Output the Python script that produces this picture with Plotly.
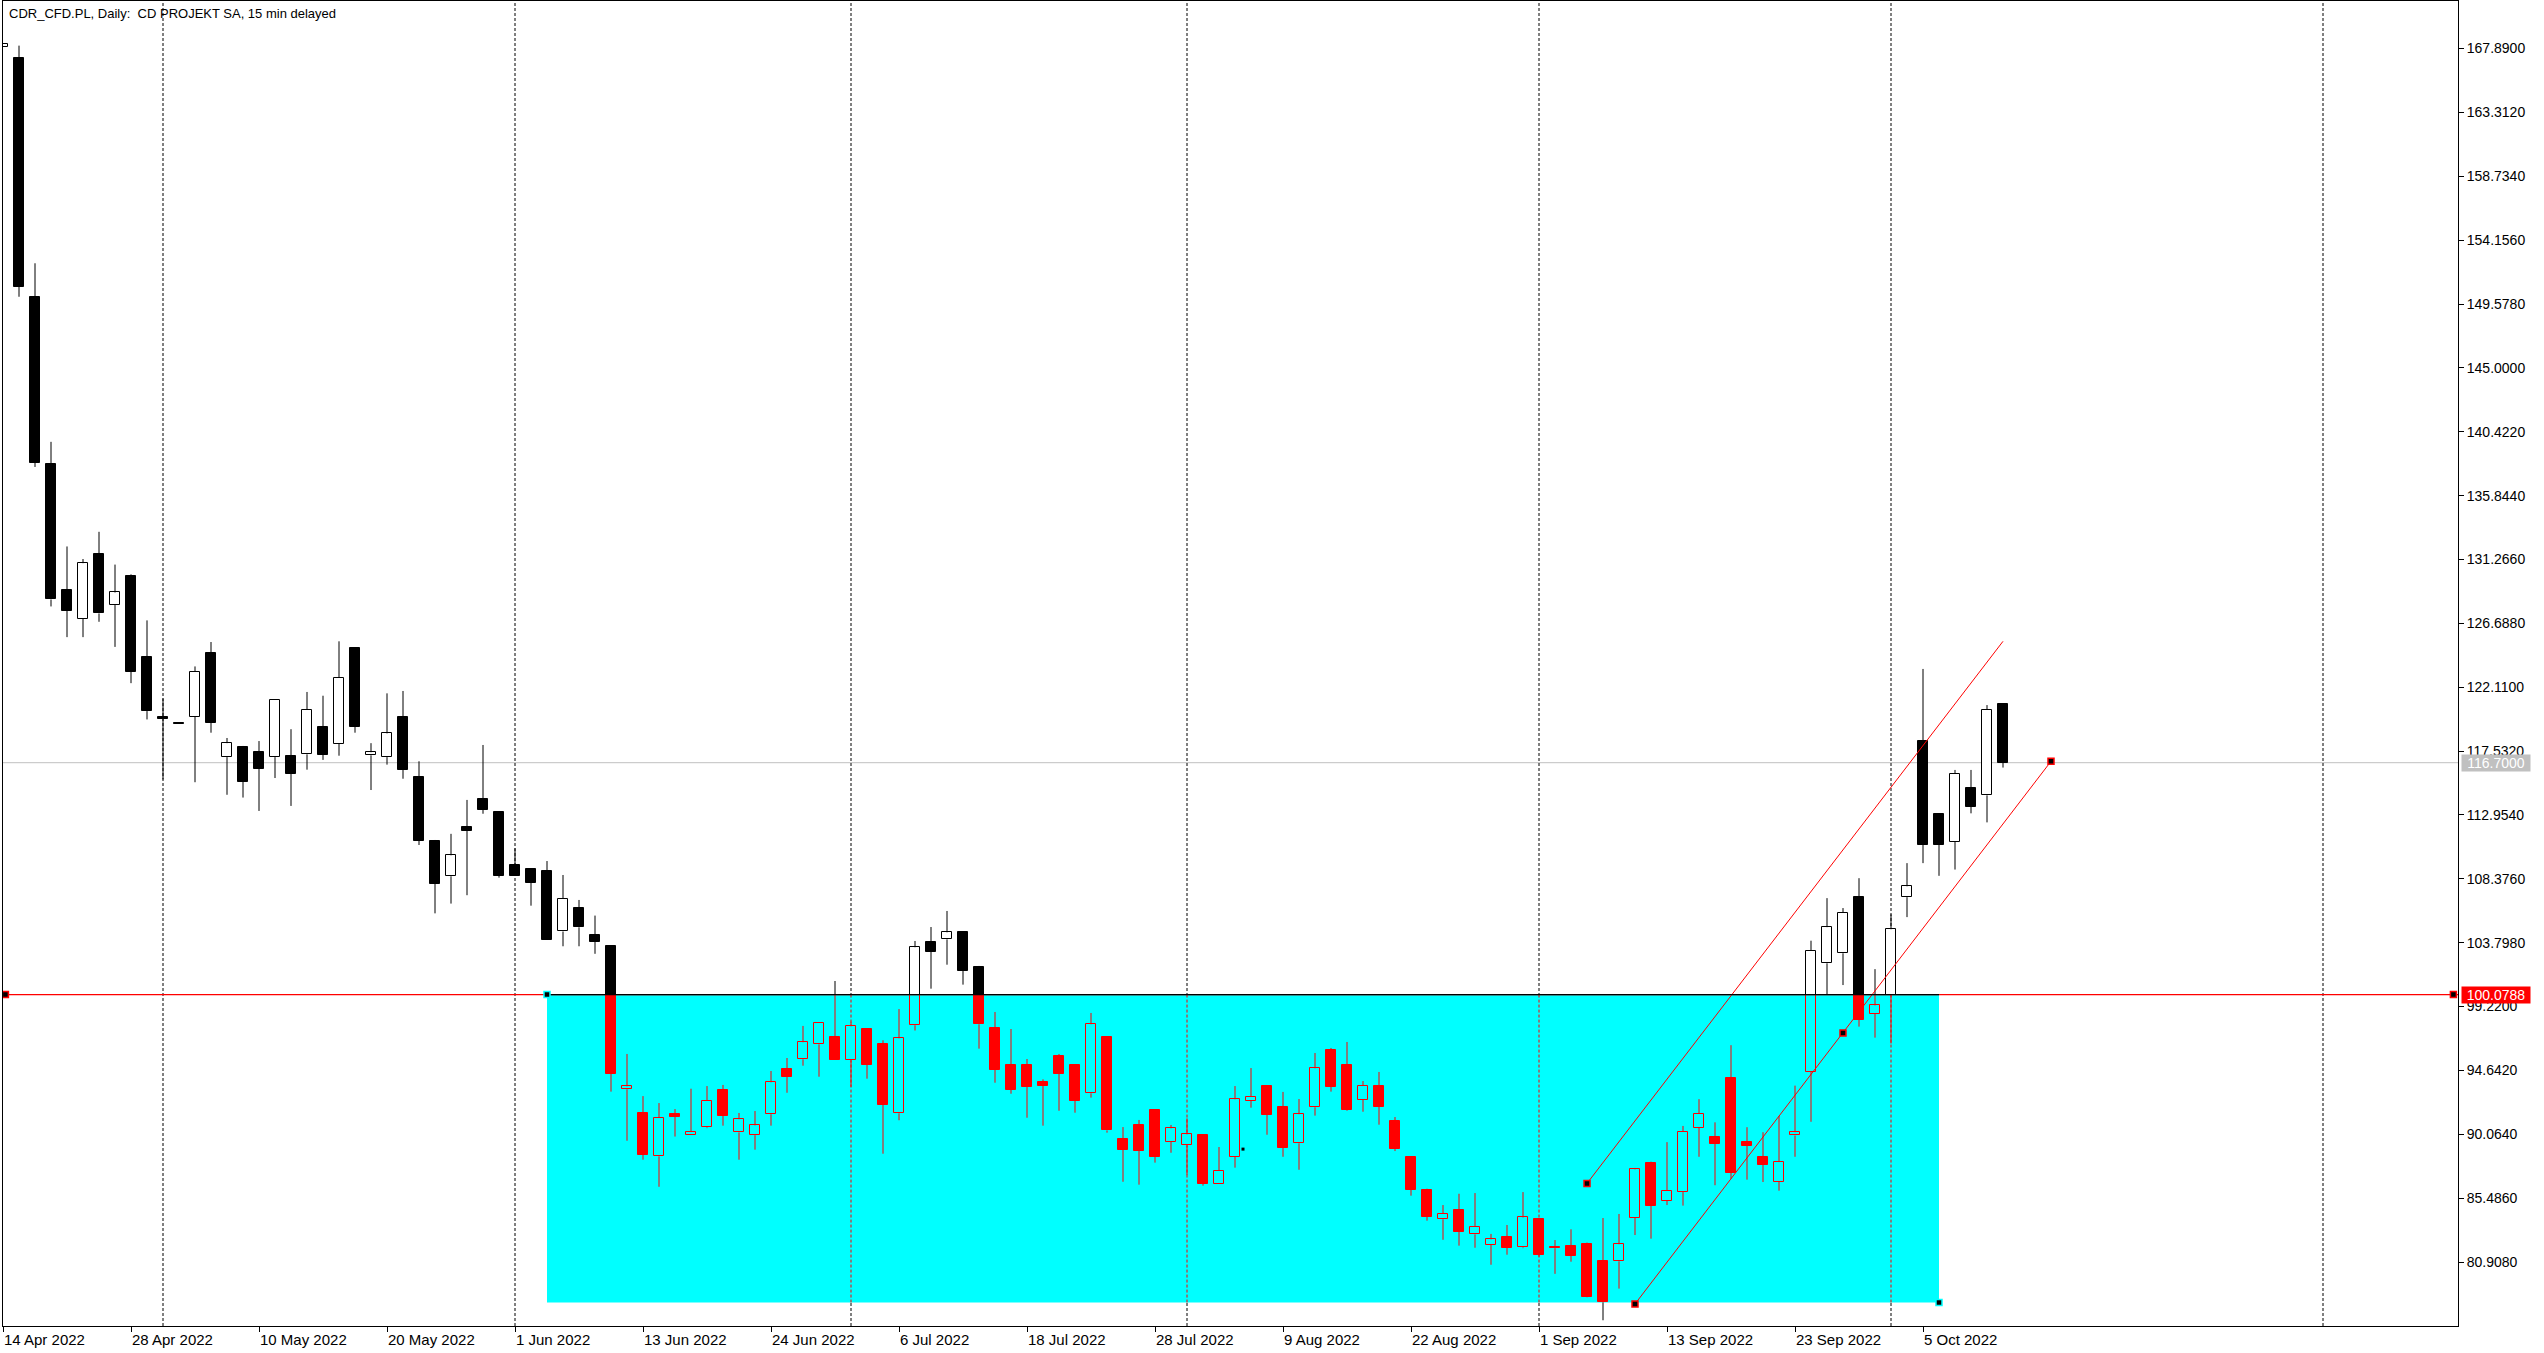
import plotly.graph_objects as go

# ---------------- data ----------------
opens = [168.0, 167.2, 150.1, 138.1, 129.1, 127.0, 131.65, 128.0, 130.1, 124.3,
         119.95, 119.5, 120.0, 124.56, 117.1, 117.8, 117.47, 117.1, 117.2, 117.3,
         119.26, 118.06, 124.9, 117.23, 117.1, 120.0, 115.67, 111.06, 108.56, 112.07,
         114.08, 113.17, 109.35, 109.08, 108.94, 104.6, 106.28, 104.35, 103.56, 93.29,
         91.59, 88.48, 91.52, 90.0, 90.56, 93.24, 90.2, 90.0, 91.5, 94.74,
         95.44, 96.51, 97.02, 95.37, 97.59, 96.51, 91.57, 97.88, 103.83, 104.04,
         104.56, 102.05, 97.68, 95.0, 95.03, 93.81, 95.68, 95.03, 93.0, 97.04,
         89.72, 90.73, 91.8, 89.53, 89.27, 90.01, 86.52, 88.45, 92.47, 93.52,
         92.02, 89.42, 92.0, 96.1, 95.03, 92.54, 93.52, 91.02, 88.43, 86.07,
         83.97, 84.63, 82.89, 82.15, 82.7, 81.96, 83.99, 82.0, 82.05, 82.2,
         80.97, 80.96, 84.08, 87.97, 85.28, 85.92, 90.53, 89.85, 94.08, 89.5,
         88.43, 86.67, 89.98, 94.53, 102.32, 103.04, 107.06, 98.69, 100.08, 107.06,
         118.26, 113.04, 111.05, 114.89, 114.36, 120.89]
highs = [168.2, 168.1, 152.5, 139.7, 132.2, 131.3, 133.25, 130.9, 130.2, 126.9,
         121.3, 119.5, 123.6, 125.35, 118.47, 117.9, 118.25, 121.2, 119.1, 121.77,
         121.5, 125.4, 124.9, 118.1, 121.67, 121.84, 116.8, 111.16, 111.6, 114.03,
         117.97, 113.17, 110.56, 109.1, 109.65, 108.65, 106.86, 105.74, 103.56, 95.82,
         92.8, 92.3, 91.87, 93.33, 93.52, 93.6, 91.59, 91.73, 94.6, 95.53,
         97.83, 98.02, 101.05, 98.13, 97.68, 96.8, 99.04, 103.92, 104.92, 106.07,
         104.56, 102.13, 98.83, 97.61, 95.46, 94.0, 95.82, 95.03, 98.76, 97.04,
         90.58, 91.09, 91.8, 90.73, 91.2, 90.01, 89.15, 93.52, 94.81, 93.52,
         93.1, 92.59, 95.89, 96.25, 96.68, 93.88, 94.53, 91.3, 88.43, 86.16,
         84.99, 85.8, 85.85, 82.92, 83.56, 85.92, 83.99, 82.48, 83.25, 82.3,
         84.06, 84.35, 87.65, 88.1, 89.5, 90.66, 92.58, 90.92, 96.45, 90.57,
         90.21, 91.38, 93.55, 103.94, 106.99, 106.28, 108.42, 101.9, 105.83, 109.5,
         123.42, 113.04, 116.18, 116.18, 120.83, 120.89]
lows = [168.0, 150.1, 137.9, 127.9, 125.7, 125.7, 126.8, 125.0, 122.4, 119.8,
        115.5, 119.5, 115.3, 118.85, 114.4, 114.2, 113.24, 115.6, 113.6, 116.2,
        116.9, 117.2, 118.85, 114.74, 116.56, 115.55, 110.8, 105.9, 106.6, 107.2,
        113.04, 108.46, 108.6, 106.45, 104.0, 103.54, 103.54, 103.0, 93.12, 89.6,
        88.24, 86.3, 89.9, 90.0, 90.5, 90.68, 88.24, 88.96, 90.68, 93.04,
        94.98, 94.19, 95.4, 93.47, 94.05, 88.67, 91.07, 97.5, 100.5, 102.22,
        100.79, 96.2, 93.76, 92.97, 91.25, 90.68, 91.75, 91.61, 92.69, 90.18,
        86.66, 86.45, 88.03, 88.74, 87.14, 86.38, 86.5, 87.67, 91.97, 90.03,
        88.45, 87.52, 91.4, 93.12, 91.75, 91.68, 90.75, 88.86, 85.66, 83.87,
        82.5, 82.08, 81.93, 80.71, 81.43, 81.9, 81.29, 80.06, 80.93, 78.38,
        76.73, 79.0, 82.84, 82.58, 84.99, 84.95, 88.45, 86.41, 86.87, 86.81,
        86.64, 86.02, 88.45, 90.96, 100.05, 100.76, 97.78, 96.99, 96.57, 105.63,
        109.5, 108.59, 109.04, 113.07, 112.42, 116.35]
closes = [168.2, 150.8, 138.2, 128.4, 127.6, 131.0, 127.4, 128.9, 123.2, 120.4,
          119.85, 119.5, 123.2, 119.57, 118.1, 115.34, 116.27, 121.2, 115.9, 120.5,
          117.27, 122.8, 119.26, 117.45, 118.8, 116.2, 111.1, 108.03, 110.06, 111.83,
          113.33, 108.58, 108.6, 108.1, 104.01, 106.93, 104.9, 103.87, 94.4, 93.5,
          88.6, 91.23, 91.33, 90.23, 92.45, 91.4, 91.14, 90.7, 93.79, 94.19,
          96.66, 98.02, 95.41, 97.8, 95.05, 92.18, 96.94, 103.47, 103.15, 104.54,
          101.79, 97.95, 94.7, 93.26, 93.47, 93.55, 94.4, 92.47, 97.95, 90.34,
          88.96, 88.89, 88.45, 90.49, 90.06, 86.52, 87.43, 92.57, 92.74, 91.47,
          89.1, 91.5, 94.79, 93.47, 91.8, 93.52, 92.05, 89.0, 86.09, 84.15,
          84.35, 83.08, 83.42, 82.53, 81.93, 84.1, 81.43, 81.9, 81.36, 78.42,
          78.05, 82.18, 87.55, 84.95, 86.02, 90.24, 91.54, 89.4, 87.32, 89.24,
          87.88, 88.07, 90.21, 103.23, 104.91, 105.95, 98.29, 99.3, 104.76, 107.84,
          110.83, 110.83, 115.92, 113.55, 120.5, 116.7]
bar_index = list(range(len(opens)))

tick_index = [0, 8, 16, 24, 32, 40, 48, 56, 64, 72, 80, 88, 96, 104, 112, 120]
tick_labels = ["14 Apr 2022", "28 Apr 2022", "10 May 2022", "20 May 2022", "1 Jun 2022",
               "13 Jun 2022", "24 Jun 2022", "6 Jul 2022", "18 Jul 2022", "28 Jul 2022",
               "9 Aug 2022", "22 Aug 2022", "1 Sep 2022", "13 Sep 2022", "23 Sep 2022",
               "5 Oct 2022"]
price_ticks = [80.908, 85.486, 90.064, 94.642, 99.22, 103.798, 108.376, 112.954,
               117.532, 122.11, 126.688, 131.266, 135.844, 140.422, 145.0, 149.578,
               154.156, 158.734, 163.312, 167.89]
price_tick_labels = ["80.9080", "85.4860", "90.0640", "94.6420", "99.2200", "103.7980",
                     "108.3760", "112.9540", "117.5320", "122.1100", "126.6880", "131.2660",
                     "135.8440", "140.4220", "145.0000", "149.5780", "154.1560", "158.7340",
                     "163.3120", "167.8900"]
separator_index = [10, 32, 53, 74, 96, 118, 145]
level_price = 100.0788
bid_price = 116.70
zone_x = [34, 121]
zone_price = [78.0, 100.0788]
channel_upper_x = [99, 125]
channel_upper_y = [86.54, 125.4]
channel_lower_x = [102, 128]
channel_lower_y = [77.9, 116.8]
channel_anchor_x = [99, 115, 102, 128]
channel_anchor_y = [86.54, 97.33, 77.9, 116.8]
level_anchor_x = [0.15, 153.15]
dot_x = [77.5]
dot_y = [89.0]

X_RANGE = [0.0, 153.4375]
Y_RANGE = [76.32, 171.30]
INF = 1e9

# ---------------- split candles into normal / inside-zone parts ----------------
def pieces(lo, hi, k):
    if not (zone_x[0] <= k <= zone_x[1]):
        return [(lo, hi, False)]
    z0, z1 = zone_price
    out = []
    for a, b, ins in ((-INF, z0, False), (z0, z1, True), (z1, INF, False)):
        l2, h2 = max(lo, a), min(hi, b)
        if h2 > l2 or (lo == hi and a <= lo <= b):
            out.append((l2, h2, ins))
    return out

bodies = {(bull, ins): {"x": [], "base": [], "h": []}
          for bull in (True, False) for ins in (True, False)}
wicks = {False: {"x": [], "y": []}, True: {"x": [], "y": []}}

for k, o, h, l, c in zip(bar_index, opens, highs, lows, closes):
    bull = c > o
    b0, b1 = min(o, c), max(o, c)
    for lo, hi, ins in pieces(b0, b1, k):
        d = bodies[(bull, ins)]
        d["x"].append(k)
        d["base"].append(lo)
        d["h"].append(max(hi - lo, 0.02))
    for seg in ((b1, h), (l, b0)):
        if seg[1] - seg[0] <= 0:
            continue
        for lo, hi, ins in pieces(seg[0], seg[1], k):
            if hi - lo <= 0:
                continue
            wicks[ins]["x"] += [k, k, None]
            wicks[ins]["y"] += [lo, hi, None]

fig = go.Figure()

styles = {
    (True, False): ("#FFFFFF", "#000000"),
    (False, False): ("#000000", "#000000"),
    (True, True): ("#00FFFF", "#FF0000"),
    (False, True): ("#FF0000", "#FF0000"),
}
for key, d in bodies.items():
    fill, line = styles[key]
    fig.add_trace(go.Bar(x=d["x"], y=d["h"], base=d["base"], width=0.66,
                         marker=dict(color=fill, line=dict(color=line, width=1)),
                         hoverinfo="skip", showlegend=False))

for ins, col in ((False, "#000000"), (True, "#FF0000")):
    fig.add_trace(go.Scatter(x=wicks[ins]["x"], y=wicks[ins]["y"], mode="lines",
                             line=dict(color=col, width=1), hoverinfo="skip",
                             showlegend=False, connectgaps=False))

# channel lines
for cx, cy in ((channel_upper_x, channel_upper_y), (channel_lower_x, channel_lower_y)):
    fig.add_trace(go.Scatter(x=cx, y=cy, mode="lines", line=dict(color="#FF0000", width=1),
                             hoverinfo="skip", showlegend=False))

# horizontal level line (red, black over the zone)
fig.add_trace(go.Scatter(x=X_RANGE, y=[level_price, level_price], mode="lines",
                         line=dict(color="#FF0000", width=1.2), hoverinfo="skip", showlegend=False))
fig.add_trace(go.Scatter(x=zone_x, y=[level_price, level_price], mode="lines",
                         line=dict(color="#000000", width=1.2), hoverinfo="skip", showlegend=False))

# anchor markers
fig.add_trace(go.Scatter(x=channel_anchor_x, y=channel_anchor_y, mode="markers",
                         marker=dict(symbol="square", size=6, color="#000000",
                                     line=dict(color="#FF0000", width=1.5)),
                         hoverinfo="skip", showlegend=False))
fig.add_trace(go.Scatter(x=level_anchor_x, y=[level_price, level_price], mode="markers",
                         marker=dict(symbol="square", size=6, color="#000000",
                                     line=dict(color="#FF0000", width=1.5)),
                         hoverinfo="skip", showlegend=False))
fig.add_trace(go.Scatter(x=zone_x, y=[zone_price[1], zone_price[0]], mode="markers",
                         marker=dict(symbol="square", size=6, color="#000000",
                                     line=dict(color="#00FFFF", width=1.5)),
                         hoverinfo="skip", showlegend=False))
fig.add_trace(go.Scatter(x=dot_x, y=dot_y, mode="markers",
                         marker=dict(symbol="square", size=3, color="#000000"),
                         hoverinfo="skip", showlegend=False))

shapes = []
# zone rectangle
shapes.append(dict(type="rect", xref="x", yref="y", x0=zone_x[0], x1=zone_x[1],
                   y0=zone_price[0], y1=zone_price[1], fillcolor="#00FFFF",
                   line=dict(width=0), layer="below"))
# bid line
shapes.append(dict(type="line", xref="paper", yref="y", x0=0, x1=1, y0=bid_price, y1=bid_price,
                   line=dict(color="#C0C0C0", width=1), layer="below"))
# period separators
for s in separator_index:
    shapes.append(dict(type="line", xref="x", yref="paper", x0=s, x1=s, y0=0, y1=1,
                       line=dict(color="#000000", width=1, dash="3px,2px"), layer="below"))
    if zone_x[0] <= s <= zone_x[1]:
        shapes.append(dict(type="line", xref="x", yref="y", x0=s, x1=s,
                           y0=zone_price[0], y1=zone_price[1],
                           line=dict(color="#FF0000", width=1, dash="3px,2px"), layer="below"))

annotations = [
    dict(text="CDR_CFD.PL, Daily:  CD PROJEKT SA, 15 min delayed", xref="paper", yref="paper",
         x=0, y=1, xanchor="left", yanchor="top", xshift=4, yshift=-3, showarrow=False,
         font=dict(family="Liberation Sans Narrow, Liberation Sans, Arial", size=13, color="#000000")),
    dict(text="116.7000", xref="paper", yref="y", x=1, y=bid_price, xanchor="left",
         yanchor="middle", xshift=3, showarrow=False, bgcolor="#C0C0C0", width=68, height=16,
         borderpad=0, font=dict(family="Liberation Sans, Arial", size=14, color="#FFFFFF")),
    dict(text="100.0788", xref="paper", yref="y", x=1, y=level_price, xanchor="left",
         yanchor="middle", xshift=3, showarrow=False, bgcolor="#FF0000", width=68, height=16,
         borderpad=0, font=dict(family="Liberation Sans, Arial", size=14, color="#FFFFFF")),
]

fig.update_layout(
    width=2544, height=1353,
    margin=dict(l=3, r=86, t=1, b=27, pad=0),
    paper_bgcolor="#FFFFFF", plot_bgcolor="#FFFFFF",
    barmode="overlay", bargap=0, showlegend=False,
    shapes=shapes, annotations=annotations,
    xaxis=dict(range=X_RANGE, showgrid=False, zeroline=False, showline=True, mirror=True,
               linecolor="#000000", linewidth=1, ticks="outside", ticklen=5, tickcolor="#000000",
               tickvals=tick_index, ticktext=tick_labels, ticklabelposition="outside right",
               tickfont=dict(family="Liberation Sans Narrow, Liberation Sans, Arial", size=15,
                             color="#000000")),
    yaxis=dict(range=Y_RANGE, side="right", showgrid=False, zeroline=False, showline=True,
               mirror=True, linecolor="#000000", linewidth=1, ticks="outside", ticklen=5,
               tickcolor="#000000", tickvals=price_ticks, ticktext=price_tick_labels,
               tickfont=dict(family="Liberation Sans, Arial", size=14, color="#000000")),
)

fig.write_html("out.html", config={"displayModeBar": False},
               post_script="document.body.style.margin='0';document.body.style.overflow='hidden';")
